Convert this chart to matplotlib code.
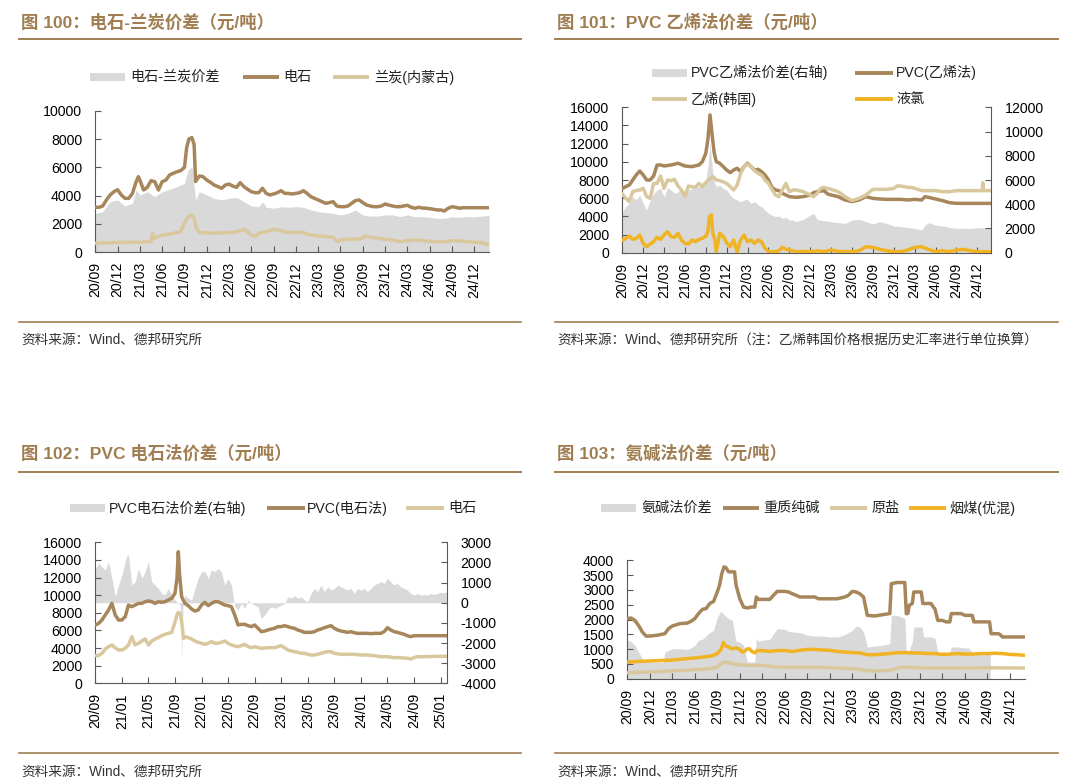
import matplotlib
matplotlib.use('Agg')
import matplotlib.pyplot as plt
from matplotlib.lines import Line2D
from matplotlib.patches import Rectangle

plt.rcParams['font.family'] = ['Liberation Sans', 'Noto Sans CJK SC']
plt.rcParams['axes.unicode_minus'] = False

# ---------------- data (x = months since 2020/09) ----------------
TICKS_Q = ['20/09', '20/12', '21/03', '21/06', '21/09', '21/12', '22/03', '22/06', '22/09',
           '22/12', '23/03', '23/06', '23/09', '23/12', '24/03', '24/06', '24/09', '24/12']
TICKS_4M = ['20/09', '21/01', '21/05', '21/09', '22/01', '22/05', '22/09', '23/01', '23/05',
            '23/09', '24/01', '24/05', '24/09', '25/01']

# Fig 100
P1_CARBIDE = [(0, 3180), (0.5, 3180), (1, 3270), (1.5, 3700), (2, 4050), (2.5, 4280), (3, 4420),
              (3.5, 4050), (4, 3810), (4.5, 3810), (5, 4160), (5.5, 4990), (5.8, 5340), (6, 5100),
              (6.5, 4400), (7, 4590), (7.5, 5060), (8, 4990), (8.5, 4400), (9, 4990), (9.5, 5100),
              (10, 5460), (10.5, 5580), (11, 5690), (11.5, 5770), (12, 6000), (12.3, 7400),
              (12.6, 8000), (13, 8100), (13.3, 7600), (13.5, 5000), (14, 5390), (14.5, 5340),
              (15, 5100), (15.5, 4940), (16, 4750), (16.5, 4640), (17, 4520), (17.5, 4750),
              (18, 4820), (18.5, 4680), (19, 4590), (19.5, 4920), (20, 4640), (20.5, 4450),
              (21, 4280), (21.5, 4210), (22, 4210), (22.5, 4520), (23, 4160), (23.5, 4050),
              (24, 4120), (24.5, 4210), (25, 4350), (25.5, 4160), (26, 4160), (26.5, 4120),
              (27, 4160), (27.5, 4210), (28, 4350), (28.5, 4160), (29, 3930), (29.5, 3810),
              (30, 3700), (30.5, 3580), (31, 3460), (31.5, 3510), (32, 3580), (32.5, 3270),
              (33, 3220), (33.5, 3220), (34, 3270), (34.5, 3460), (35, 3650), (35.5, 3700),
              (36, 3510), (36.5, 3340), (37, 3270), (37.5, 3220), (38, 3220), (38.5, 3270),
              (39, 3410), (39.5, 3340), (40, 3270), (40.5, 3220), (41, 3220), (41.5, 3270),
              (42, 3320), (42.5, 3180), (43, 3110), (43.5, 3180), (44, 3130), (44.5, 3110),
              (45, 3080), (45.5, 3040), (46, 2990), (46.5, 2990), (47, 2920), (47.5, 3110),
              (48, 3220), (48.5, 3180), (49, 3110), (49.5, 3150), (50, 3150), (51, 3150),
              (52, 3150), (53, 3150)]
P1_SEMICOKE = [(0, 640), (2, 680), (4, 710), (6, 710), (7.5, 750), (7.7, 1340), (8, 990),
               (8.5, 1110), (9, 1220), (10, 1290), (11, 1390), (11.5, 1460), (12, 2050),
               (12.5, 2520), (13, 2640), (13.3, 2400), (13.6, 1690), (14, 1390), (15, 1390),
               (16, 1340), (17, 1390), (18, 1390), (19, 1440), (20, 1620), (20.5, 1460),
               (21, 1220), (21.5, 1110), (22, 1340), (23, 1460), (24, 1620), (25, 1530),
               (26, 1390), (27, 1440), (28, 1390), (29, 1220), (30, 1150), (31, 1110),
               (32, 1060), (32.5, 750), (33, 870), (34, 920), (35, 920), (36, 990), (36.2, 1150),
               (37, 1060), (38, 990), (39, 920), (40, 870), (41, 750), (42, 820), (43, 870),
               (44, 820), (45, 780), (46, 750), (47, 730), (48, 820), (49, 800), (50, 750),
               (51, 710), (52, 680), (53, 520)]
P1_SPREAD = [(0, 2750), (1, 2870), (2, 3580), (3, 3700), (4, 3270), (5, 3460), (5.5, 4400),
             (6, 4050), (7, 4280), (8, 3930), (9, 4280), (10, 4450), (11, 4640), (12, 4870),
             (12.5, 5810), (13, 6050), (13.5, 3700), (14, 4280), (15, 4050), (16, 3810),
             (17, 3700), (18, 3810), (19, 3880), (19.5, 3740), (20, 3580), (21, 3270),
             (22, 3220), (22.5, 3580), (23, 3180), (24, 3110), (25, 3220), (26, 3180),
             (27, 3220), (28, 3180), (29, 2990), (30, 2870), (31, 2800), (32, 2750), (33, 2640),
             (34, 2750), (35, 2990), (36, 2640), (37, 2560), (38, 2560), (39, 2640), (40, 2640),
             (41, 2520), (42, 2640), (43, 2520), (44, 2520), (45, 2470), (46, 2400), (47, 2400),
             (48, 2520), (49, 2470), (50, 2520), (51, 2520), (52, 2560), (53, 2600)]

# Fig 101
P2_PVC = [(0, 7080), (1, 7450), (2, 8550), (2.5, 8990), (3, 8550), (3.5, 8000), (4, 8000),
          (4.5, 8440), (5, 9650), (5.5, 9650), (6, 9540), (7, 9650), (8, 9840), (9, 9540),
          (10, 9470), (11, 9650), (11.5, 10020), (12, 10940), (12.3, 12500), (12.6, 15160),
          (12.9, 13000), (13.2, 11000), (13.5, 10020), (14, 9840), (15, 9100), (15.5, 8810),
          (16, 9100), (16.5, 9290), (17, 8920), (17.5, 9470), (18, 9840), (18.5, 9470),
          (19, 9100), (19.5, 9180), (20, 8920), (20.5, 8550), (21, 8000), (21.5, 7190),
          (22, 6900), (22.5, 6830), (23, 6530), (23.5, 6350), (24, 6170), (25, 6090),
          (26, 6170), (27, 6350), (27.5, 6610), (28, 6720), (29, 6830), (29.5, 6460),
          (30, 6350), (31, 6170), (32, 5800), (33, 5620), (34, 5800), (35, 6170), (36, 5980),
          (37, 5910), (38, 5870), (39, 5870), (40, 5870), (41, 5800), (42, 5870), (43, 5800),
          (43.5, 6170), (44, 6090), (45, 5910), (46, 5730), (47, 5510), (48, 5430), (49, 5430),
          (50, 5430), (51, 5430), (52, 5430), (53, 5430)]
P2_ETHYLENE = [(0, 6460), (0.5, 5980), (1, 5620), (1.5, 6720), (2, 6830), (2.5, 6900),
               (3, 7080), (3.5, 6170), (4, 5980), (4.5, 7630), (5, 7630), (5.5, 8440),
               (6, 7080), (6.5, 8000), (7, 7930), (7.5, 8070), (8, 7340), (8.5, 6900),
               (9, 6170), (9.5, 7340), (10, 7270), (10.5, 7190), (11, 7630), (11.5, 7270),
               (12, 7710), (12.5, 8070), (13, 8370), (13.5, 8000), (14, 7930), (15, 7630),
               (15.5, 7270), (16, 6900), (16.5, 7450), (17, 8730), (17.5, 9470), (18, 9760),
               (18.5, 9470), (19, 9030), (19.5, 8730), (20, 8550), (20.5, 8000), (21, 7630),
               (21.5, 6970), (22, 6350), (22.5, 6170), (23, 6900), (23.5, 7630), (24, 6720),
               (24.5, 6900), (25, 6900), (26, 6720), (27, 6350), (27.5, 6170), (28, 6530),
               (28.5, 7080), (29, 7190), (29.5, 7080), (30, 6970), (31, 6720), (32, 6170),
               (33, 5730), (34, 5980), (35, 6350), (36, 6970), (37, 6970), (38, 6970),
               (39, 7080), (39.5, 7340), (40, 7340), (41, 7190), (41.5, 7190), (42, 7080),
               (43, 6830), (44, 6830), (45, 6830), (46, 6720), (47, 6720), (48, 6830),
               (49, 6830), (50, 6830), (51, 6830), (51.7, 6830), (51.8, 7700), (51.9, 6830),
               (53, 6830)]
P2_CHLORINE = [(0, 1390), (0.5, 1580), (1, 1830), (1.5, 1470), (2, 1580), (2.5, 1950),
               (3, 1030), (3.5, 660), (4, 950), (4.5, 1210), (5, 1690), (5.5, 1470), (6, 1950),
               (6.5, 2310), (7, 1760), (7.5, 1690), (8, 2130), (8.5, 1390), (9, 1030),
               (9.5, 950), (10, 1390), (10.5, 1210), (11, 1470), (11.5, 1580), (12, 1830),
               (12.3, 2310), (12.5, 3960), (12.8, 4150), (13, 2130), (13.3, 1390), (13.5, 110),
               (14, 2130), (14.5, 1760), (15, 1100), (15.5, 660), (16, 1390), (16.5, 110),
               (17, 1390), (17.5, 1950), (18, 1210), (18.5, 1390), (19, 1030), (19.5, 1390),
               (20, 1210), (20.5, 480), (21, 110), (22, 110), (22.5, 220), (23, 590),
               (23.5, 370), (24, 290), (25, 110), (26, 150), (27, 110), (28, 200), (29, 120),
               (30, 290), (31, 150), (32, 110), (33, 130), (34, 200), (35, 660), (36, 590),
               (37, 370), (38, 220), (39, 110), (40, 110), (41, 290), (42, 590), (43, 660),
               (44, 370), (45, 110), (46, 220), (47, 110), (48, 290), (49, 370), (50, 220),
               (51, 110), (52, 110), (53, 110)]
P2_SPREAD = [(0, 3380), (0.5, 3800), (1, 4070), (1.5, 4620), (2, 4350), (2.5, 4760),
             (3, 4070), (3.5, 3520), (4, 4350), (4.5, 4900), (5, 5170), (5.5, 5310), (6, 4620),
             (6.5, 5390), (7, 5170), (7.5, 4900), (8, 5030), (8.5, 5310), (9, 4620),
             (9.5, 5170), (10, 5310), (10.5, 5580), (11, 5390), (11.5, 5780), (12, 6000),
             (12.3, 7100), (12.6, 9020), (12.9, 7100), (13.2, 5860), (13.5, 5450), (14, 5580),
             (14.5, 5310), (15, 5170), (15.5, 4760), (16, 4480), (16.5, 4350), (17, 4210),
             (17.5, 4350), (18, 4400), (18.5, 4070), (19, 4210), (19.5, 3930), (20, 3800),
             (20.5, 3520), (21, 3250), (21.5, 3110), (22, 2970), (22.5, 3030), (23, 2830),
             (23.5, 2920), (24, 2700), (24.5, 2700), (25, 2560), (26, 2750), (27, 3110),
             (27.5, 3250), (28, 2750), (29, 2640), (30, 2560), (31, 2480), (32, 2420),
             (33, 2700), (34, 2750), (35, 2560), (36, 2370), (37, 2560), (38, 2420), (39, 2200),
             (40, 2150), (41, 2090), (42, 2010), (43, 1870), (43.5, 2280), (44, 2480),
             (45, 2280), (46, 2200), (47, 2090), (48, 2010), (49, 2010), (50, 2010), (51, 2060),
             (52, 2060), (53, 2060)]

# Fig 102
P3_PVC = [(0, 6620), (0.5, 6800), (1, 7180), (1.5, 7750), (2, 8320), (2.5, 9070), (3, 7750),
          (3.5, 7180), (4, 7180), (4.5, 7560), (5, 8880), (5.5, 8690), (6, 8880), (6.5, 9070),
          (7, 9070), (7.5, 9260), (8, 9340), (8.5, 9260), (9, 9070), (9.5, 9260), (10, 9190),
          (10.5, 9260), (11, 9450), (11.5, 9640), (12, 10210), (12.3, 11910), (12.5, 14930),
          (12.7, 12290), (13, 9830), (13.5, 9070), (14, 8810), (14.5, 8430), (15, 8200),
          (15.5, 8320), (16, 8880), (16.5, 9190), (17, 8810), (17.5, 9070), (18, 9260),
          (18.5, 9260), (19, 9070), (19.5, 8880), (20, 8810), (20.5, 8690), (21, 7750),
          (21.5, 6620), (22, 6690), (22.5, 6690), (23, 6540), (23.5, 6430), (24, 6620),
          (24.5, 6240), (25, 5860), (25.5, 5930), (26, 6050), (26.5, 6160), (27, 6240),
          (27.5, 6430), (28, 6430), (28.5, 6540), (29, 6430), (29.5, 6310), (30, 6240),
          (30.5, 6050), (31, 5930), (31.5, 5780), (32, 5780), (32.5, 5780), (33, 5860),
          (33.5, 6050), (34, 6160), (34.5, 6310), (35, 6430), (35.5, 6540), (36, 6240),
          (36.5, 6050), (37, 5930), (37.5, 5860), (38, 5780), (38.5, 5860), (39, 5740),
          (39.5, 5670), (40, 5670), (41, 5670), (41.5, 5630), (42, 5670), (43, 5670),
          (43.5, 5860), (44, 6310), (44.5, 6050), (45, 5860), (45.5, 5780), (46, 5670),
          (46.5, 5560), (47, 5400), (47.5, 5290), (48, 5400), (49, 5400), (50, 5400),
          (51, 5400), (52, 5400), (53, 5400)]
P3_CARBIDE = [(0, 3140), (0.5, 3140), (1, 3400), (1.5, 3890), (2, 4160), (2.5, 4350),
              (3, 4040), (3.5, 3780), (4, 3780), (4.5, 3970), (5, 4350), (5.5, 5290),
              (6, 4350), (6.5, 4540), (7, 4800), (7.5, 5030), (8, 4350), (8.5, 4800),
              (9, 5030), (9.5, 5180), (10, 5410), (10.5, 5560), (11, 5670), (11.5, 5780),
              (12, 6920), (12.3, 7750), (12.5, 8050), (12.8, 7940), (13, 7000), (13.3, 5100),
              (13.5, 5290), (14, 5180), (14.5, 5030), (15, 4800), (15.5, 4650), (16, 4540),
              (16.5, 4420), (17, 4540), (17.5, 4730), (18, 4540), (18.5, 4540), (19, 4650),
              (19.5, 4800), (20, 4540), (20.5, 4350), (21, 4230), (21.5, 4160), (22, 4270),
              (22.5, 4420), (23, 4160), (23.5, 4040), (24, 4160), (24.5, 4040), (25, 3970),
              (26, 4040), (27, 4040), (27.5, 4160), (28, 4270), (28.5, 4040), (29, 3780),
              (29.5, 3670), (30, 3590), (30.5, 3520), (31, 3400), (31.5, 3400), (32, 3290),
              (32.5, 3210), (33, 3210), (33.5, 3290), (34, 3400), (34.5, 3520), (35, 3590),
              (35.5, 3590), (36, 3400), (37, 3290), (38, 3290), (39, 3290), (40, 3210),
              (41, 3210), (42, 3140), (43, 3020), (44, 3020), (45, 2910), (46, 2910),
              (47, 2840), (47.5, 2760), (48, 2910), (48.5, 3020), (49, 3020), (50, 3020),
              (51, 3060), (52, 3060), (53, 3060)]
P3_SPREAD = [(0, 1700), (0.5, 1950), (1, 1790), (1.5, 1620), (2, 2040), (2.5, 1210), (3, 300),
             (3.5, 880), (4, 1370), (4.5, 2040), (4.8, 2370), (5, 2370), (5.5, 880), (6, 1040),
             (6.5, 1700), (7, 1210), (7.5, 1540), (8, 2040), (8.5, 1040), (9, 880), (9.5, 710),
             (10, 460), (10.5, 380), (11, 710), (11.5, 380), (12, 130), (12.5, -30),
             (12.8, -120), (13, -2770), (13.2, -200), (13.5, 380), (14, 220), (14.5, 130),
             (15, 710), (15.5, 1210), (16, 1540), (16.5, 1540), (17, 1210), (17.5, 1620),
             (18, 1540), (18.5, 1700), (19, 1540), (19.5, 880), (20, 1210), (20.5, 880),
             (21, -200), (21.5, -360), (22, -30), (22.5, -280), (23, 130), (23.5, -30),
             (24, -120), (24.5, -200), (25, -780), (25.5, -610), (26, -360), (26.5, -200),
             (27, -280), (27.5, -200), (28, -120), (28.5, -30), (29, 300), (29.5, 220),
             (30, 350), (30.5, 220), (31, 300), (31.5, 130), (32, 50), (32.5, 460), (33, 710),
             (33.5, 550), (34, 880), (34.5, 550), (35, 790), (35.5, 630), (36, 710), (36.5, 880),
             (37, 790), (37.5, 710), (38, 630), (38.5, 710), (39, 460), (39.5, 710), (40, 630),
             (40.5, 710), (41, 550), (41.5, 710), (42, 880), (42.5, 960), (43, 1040),
             (43.5, 960), (44, 1210), (44.5, 1040), (45, 880), (45.5, 960), (46, 790),
             (46.5, 710), (47, 630), (47.5, 460), (48, 380), (48.5, 460), (49, 380), (49.5, 410),
             (50, 380), (50.5, 460), (51, 410), (51.5, 460), (52, 510), (53, 510)]

# Fig 103
P4_SODA = [(0, 2030), (0.5, 2050), (1, 1970), (1.5, 1800), (2, 1580), (2.5, 1440), (3, 1440),
           (4, 1470), (5, 1520), (5.5, 1690), (6, 1780), (7, 1860), (8, 1880), (8.5, 1940),
           (9, 2030), (9.5, 2200), (10, 2340), (10.5, 2370), (11, 2540), (11.5, 2610),
           (12, 2930), (12.3, 3160), (12.6, 3550), (12.9, 3780), (13.2, 3740), (13.5, 3610),
           (14.3, 3610), (14.5, 3160), (15, 2700), (15.5, 2420), (16, 2390), (16.5, 2420),
           (17, 2420), (17.2, 2760), (17.5, 2680), (19, 2680), (19.5, 2820), (20, 2950),
           (21, 2950), (21.5, 2930), (22, 2870), (22.5, 2820), (23, 2760), (25, 2760),
           (25.5, 2700), (28, 2700), (29, 2760), (29.5, 2820), (30, 2950), (30.5, 2930),
           (31, 2870), (31.5, 2760), (32, 2140), (33, 2120), (34, 2160), (35, 2200),
           (35.2, 3210), (36, 3250), (37, 3250), (37.2, 2200), (37.4, 2200), (37.6, 2480),
           (38, 2540), (38.2, 2930), (39.2, 2930), (39.4, 2540), (40.5, 2540), (40.8, 2420),
           (41, 2370), (41.4, 1970), (42, 1970), (42.5, 1920), (43, 1920), (43.2, 2200),
           (44.5, 2200), (45, 2140), (46, 2140), (46.2, 1920), (48.3, 1920), (48.5, 1520),
           (49.5, 1520), (49.8, 1470), (50, 1410), (53, 1410)]
P4_SALT = [(0, 200), (5, 250), (10, 320), (11, 340), (12, 390), (12.5, 510), (13, 560),
           (13.5, 540), (14, 510), (15, 470), (16, 450), (18, 450), (20, 390), (22, 390),
           (25, 390), (28, 360), (30, 340), (32, 280), (33, 260), (35, 280), (36, 360),
           (37, 390), (38, 380), (40, 360), (45, 360), (48, 370), (53, 360)]
P4_COAL = [(0, 560), (2, 590), (4, 610), (6, 630), (8, 680), (9, 700), (10, 730), (11, 760),
           (11.5, 790), (12, 850), (12.5, 990), (12.8, 1220), (13, 1130), (13.5, 1070),
           (14, 1010), (14.5, 1040), (15, 990), (15.3, 900), (15.6, 920), (16, 1010),
           (16.3, 1010), (16.6, 920), (17, 870), (17.3, 950), (18, 950), (19, 920), (20, 950),
           (21, 950), (22, 920), (23, 960), (24, 990), (25, 990), (26, 970), (27, 960),
           (28, 920), (29, 900), (30, 880), (31, 870), (32, 810), (33, 810), (34, 830),
           (35, 850), (36, 880), (37, 880), (38, 870), (39, 870), (40, 850), (41, 850),
           (42, 820), (43, 830), (44, 850), (45, 830), (46, 830), (47, 850), (48, 850),
           (49, 860), (50, 850), (51, 820), (52, 810), (53, 790)]
P4_SPREAD = [(0, 1300), (0.5, 1260), (1, 1130), (1.5, 900), (2, 680), (2.5, 560), (4.8, 560),
             (5, 900), (5.5, 960), (6, 1010), (7, 1010), (8, 990), (8.5, 1040), (9, 1130),
             (9.5, 1300), (10, 1330), (11, 1560), (11.5, 1630), (12, 2080), (12.5, 2280),
             (13, 2140), (13.5, 2030), (14, 1970), (14.5, 1260), (15, 1240), (15.5, 1130),
             (16, 560), (17, 560), (17.2, 1370), (17.5, 1260), (18, 1300), (19, 1330),
             (19.5, 1520), (20, 1690), (21, 1670), (21.5, 1600), (22, 1580), (23, 1560),
             (24, 1470), (25, 1440), (26, 1440), (27, 1410), (28, 1410), (29, 1490), (30, 1630),
             (30.5, 1780), (31, 1750), (31.5, 1580), (32, 1070), (33, 1100), (34, 1130),
             (35, 1180), (35.2, 2140), (36, 2140), (37, 2030), (37.2, 960), (37.5, 900),
             (38, 1260), (38.2, 1750), (39.3, 1750), (39.5, 1410), (40.5, 1410), (41, 1370),
             (41.4, 900), (43, 900), (43.2, 1070), (44, 1070), (45, 1040), (45.5, 1040),
             (46, 900), (48.4, 900)]

# ---------------- styling ----------------
W, H = 1080, 784
DARK = '#A6865A'
TAN = '#D9C89E'
GRAY = '#D9D9D9'
YEL = '#F0B323'
TITLE_C = '#A07E52'
AXC = '#595959'
XMAX = 53.0

fig = plt.figure(figsize=(W / 100, H / 100), dpi=100)


def fx(x):
    return x / W


def fy(y):
    return 1 - y / H


def add_ax(x0, y0, x1, y1):
    return fig.add_axes([fx(x0), fy(y1), (x1 - x0) / W, (y1 - y0) / H])


def unzip(pairs):
    return [p[0] for p in pairs], [p[1] for p in pairs]


def frame(tx, ty, title, lx0, lx1, ly, by, sy, source):
    fig.text(fx(tx), fy(ty), title, fontsize=12.5, fontweight='bold', color=TITLE_C,
             va='center', ha='left')
    fig.add_artist(Line2D([fx(lx0), fx(lx1)], [fy(ly)] * 2, color=TITLE_C, lw=1.4,
                          transform=fig.transFigure))
    fig.add_artist(Line2D([fx(lx0), fx(lx1)], [fy(by)] * 2, color=TITLE_C, lw=1.2,
                          transform=fig.transFigure))
    fig.text(fx(tx), fy(sy), source, fontsize=9.8, color='#333333', va='center', ha='left')


def leg_patch(x0, x1, y, label, tx):
    fig.add_artist(Rectangle((fx(x0), fy(y + 4)), (x1 - x0) / W, 8 / H, color=GRAY,
                             transform=fig.transFigure, lw=0))
    fig.text(fx(tx), fy(y), label, fontsize=10.2, va='center', ha='left', color='#222222')


def leg_line(x0, x1, y, c, label, tx):
    fig.add_artist(Line2D([fx(x0), fx(x1)], [fy(y)] * 2, color=c, lw=2.8,
                          solid_capstyle='butt', transform=fig.transFigure))
    fig.text(fx(tx), fy(y), label, fontsize=10.2, va='center', ha='left', color='#222222')


def style_ax(ax, ticks, labels):
    for s in ['top', 'right']:
        ax.spines[s].set_visible(False)
    for s in ['left', 'bottom']:
        ax.spines[s].set_color(AXC)
        ax.spines[s].set_linewidth(0.8)
    ax.set_xlim(0, XMAX)
    ax.set_xticks(ticks)
    ax.set_xticklabels(labels, rotation=90)
    ax.tick_params(axis='x', direction='in', length=4, width=0.8, color=AXC,
                   labelsize=10.2, pad=7)
    ax.tick_params(axis='y', direction='in', length=4, width=0.8, color=AXC,
                   labelsize=10.2, pad=9.5)


def style_right(ax2):
    for s in ['top', 'left', 'bottom']:
        ax2.spines[s].set_visible(False)
    ax2.spines['right'].set_color(AXC)
    ax2.spines['right'].set_linewidth(0.8)
    ax2.tick_params(axis='y', direction='in', length=4, width=0.8, color=AXC,
                    labelsize=10.2, pad=9.5)


LW = 2.5
Q_TICKS = [3 * i for i in range(len(TICKS_Q))]
M4_TICKS = [4 * i for i in range(len(TICKS_4M))]

# ---------------- Panel 1 ----------------
frame(21, 22.5, '图 100：电石-兰炭价差（元/吨）', 18.8, 520.5, 39.3, 322.3, 340,
      '资料来源：Wind、德邦研究所')
leg_patch(89.7, 125, 77, '电石-兰炭价差', 130)
leg_line(242.5, 279, 77, DARK, '电石', 283.6)
leg_line(333, 369, 77, TAN, '兰炭(内蒙古)', 374)

ax1 = add_ax(95.3, 110.7, 489.1, 252.3)
x, y = unzip(P1_SPREAD)
ax1.fill_between(x, 0, y, color=GRAY, lw=0, zorder=1)
x, y = unzip(P1_CARBIDE)
ax1.plot(x, y, color=DARK, lw=LW, zorder=3)
x, y = unzip(P1_SEMICOKE)
ax1.plot(x, y, color=TAN, lw=LW, zorder=3)
ax1.set_ylim(0, 10000)
ax1.set_yticks(range(0, 10001, 2000))
style_ax(ax1, Q_TICKS, TICKS_Q)

# ---------------- Panel 2 ----------------
frame(557, 22.5, '图 101：PVC 乙烯法价差（元/吨）', 555.4, 1057.8, 39.3, 322.3, 340.7,
      '资料来源：Wind、德邦研究所（注：乙烯韩国价格根据历史汇率进行单位换算）')
leg_patch(652, 686.6, 72.7, 'PVC乙烯法价差(右轴)', 690.7)
leg_line(855, 892.7, 72.7, DARK, 'PVC(乙烯法)', 896)
leg_line(652, 686.6, 99.3, TAN, '乙烯(韩国)', 690.7)
leg_line(855, 892.7, 99.3, YEL, '液氯', 896)

ax2 = add_ax(622.3, 107.3, 991.2, 252.7)
ax2r = ax2.twinx()
x, y = unzip(P2_SPREAD)
ax2r.fill_between(x, 0, y, color=GRAY, lw=0)
ax2r.set_ylim(0, 12000)
ax2r.set_yticks(range(0, 12001, 2000))
ax2.set_zorder(ax2r.get_zorder() + 1)
ax2.patch.set_visible(False)
x, y = unzip(P2_PVC)
ax2.plot(x, y, color=DARK, lw=LW, zorder=3)
x, y = unzip(P2_ETHYLENE)
ax2.plot(x, y, color=TAN, lw=LW, zorder=3)
x, y = unzip(P2_CHLORINE)
ax2.plot(x, y, color=YEL, lw=LW, zorder=4)
ax2.set_ylim(0, 16000)
ax2.set_yticks(range(0, 16001, 2000))
style_ax(ax2, Q_TICKS, TICKS_Q)
style_right(ax2r)
ax2r.set_xlim(0, XMAX)

# ---------------- Panel 3 ----------------
frame(21, 453.3, '图 102：PVC 电石法价差（元/吨）', 18.8, 520.5, 471.7, 753.3, 771.7,
      '资料来源：Wind、德邦研究所')
leg_patch(70.2, 104.5, 508.3, 'PVC电石法价差(右轴)', 109)
leg_line(267, 304.8, 508.3, DARK, 'PVC(电石法)', 307.2)
leg_line(405.8, 443.5, 508.3, TAN, '电石', 448)

ax3 = add_ax(95.3, 542.3, 447.2, 683.3)
ax3r = ax3.twinx()
x, y = unzip(P3_SPREAD)
ax3r.fill_between(x, 0, y, color=GRAY, lw=0)
ax3r.set_ylim(-4000, 3000)
ax3r.set_yticks(range(-4000, 3001, 1000))
ax3.set_zorder(ax3r.get_zorder() + 1)
ax3.patch.set_visible(False)
x, y = unzip(P3_PVC)
ax3.plot(x, y, color=DARK, lw=LW, zorder=3)
x, y = unzip(P3_CARBIDE)
ax3.plot(x, y, color=TAN, lw=LW, zorder=3)
ax3.set_ylim(0, 16000)
ax3.set_yticks(range(0, 16001, 2000))
style_ax(ax3, M4_TICKS, TICKS_4M)
style_right(ax3r)
ax3r.set_xlim(0, XMAX)

# ---------------- Panel 4 ----------------
frame(557, 453.3, '图 103：氨碱法价差（元/吨）', 555.4, 1057.8, 471.7, 753.3, 771.7,
      '资料来源：Wind、德邦研究所')
leg_patch(601, 636, 508.3, '氨碱法价差', 641)
leg_line(723, 759, 508.3, DARK, '重质纯碱', 763)
leg_line(830, 867, 508.3, TAN, '原盐', 871.5)
leg_line(909, 946, 508.3, YEL, '烟煤(优混)', 949)

ax4 = add_ax(627.3, 560.3, 1024.8, 678.7)
x, y = unzip(P4_SPREAD)
ax4.fill_between(x, 0, y, color=GRAY, lw=0, zorder=1)
x, y = unzip(P4_SODA)
ax4.plot(x, y, color=DARK, lw=LW, zorder=3)
x, y = unzip(P4_SALT)
ax4.plot(x, y, color=TAN, lw=LW, zorder=3)
x, y = unzip(P4_COAL)
ax4.plot(x, y, color=YEL, lw=LW, zorder=4)
ax4.set_ylim(0, 4000)
ax4.set_yticks(range(0, 4001, 500))
style_ax(ax4, Q_TICKS, TICKS_Q)

fig.savefig('out.png', dpi=100)
